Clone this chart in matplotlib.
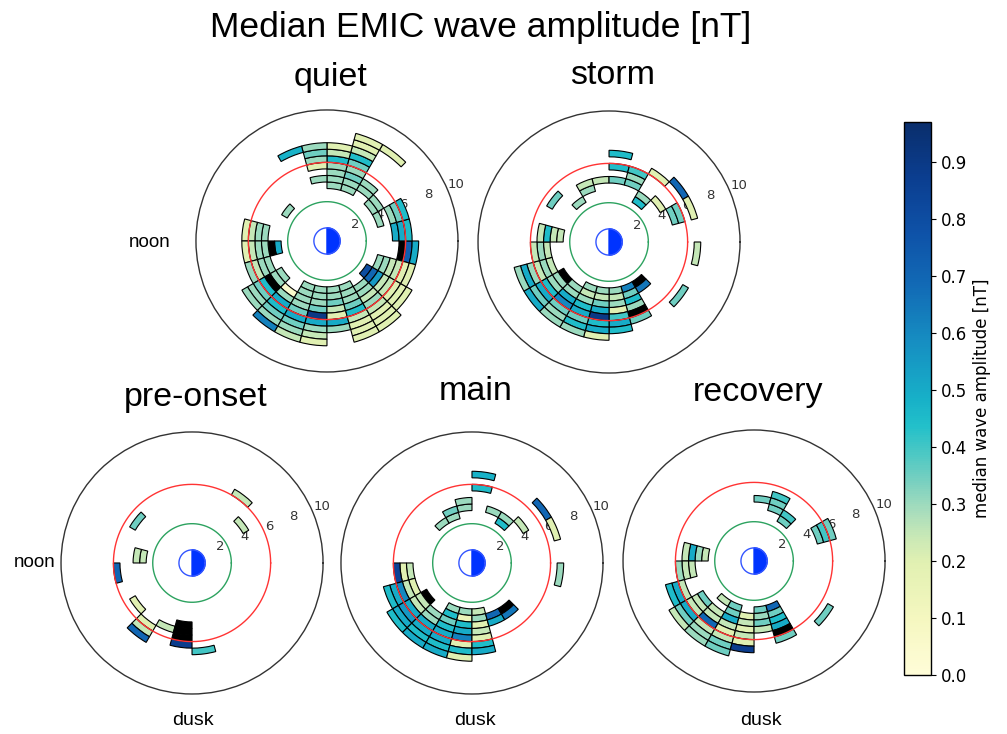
import numpy as np
import matplotlib
import matplotlib.pyplot as plt
from matplotlib import colors, cm

plt.rcParams['font.family'] = ['DejaVu Sans']
label_font = ['Liberation Sans', 'DejaVu Sans']

# each entry: (MLT hour, lowest L of the run, amplitudes of consecutive 0.5 L bins)
# values above the colour range (>0.97 nT) are drawn black
quiet = [
    (23, 5.5, [1.2, 0.72, 0.5]),
    (0, 5.0, [0.5, 0.5, 0.45]),
    (1, 4.0, [0.3]), (1, 5.0, [0.3, 0.35, 0.45]),
    (2, 4.0, [0.3, 0.3]),
    (3, 4.5, [0.3, 0.3]), (3, 8.0, [0.2]),
    (4, 4.0, [0.3, 0.3, 0.35, 0.3, 0.35, 0.45, 0.25, 0.2, 0.2]),
    (5, 4.0, [0.3, 0.3, 0.3, 0.3, 0.45, 0.25, 0.2]),
    (6, 4.5, [0.3]), (6, 5.5, [0.2, 0.3, 0.35, 0.3]),
    (7, 7.0, [0.48]),
    (9, 3.5, [0.3]),
    (11, 4.5, [0.3, 0.3, 0.25, 0.2]),
    (12, 3.5, [0.5, 1.2, 0.3, 0.3, 0.25, 0.2]),
    (13, 4.5, [0.3, 0.3, 0.25, 0.3]),
    (14, 4.0, [0.3, 0.3, 1.2, 0.45, 0.35, 0.3, 0.3]),
    (15, 4.5, [0.05, 0.3, 0.5, 0.45, 0.35, 0.3, 0.62]),
    (16, 3.5, [0.3, 0.3, 0.3, 0.3, 0.35, 0.5, 0.35, 0.3, 0.25]),
    (17, 3.5, [0.3, 0.3, 0.3, 0.35, 0.9, 0.5, 0.3, 0.25, 0.2]),
    (18, 3.5, [0.3, 0.3, 0.35, 0.25, 0.2, 0.5, 0.3]),
    (19, 3.5, [0.3, 0.3, 0.3, 0.35, 0.45, 0.25, 0.2, 0.2, 0.2]),
    (20, 4.0, [0.3, 0.3, 0.25, 0.3, 0.25, 0.2, 0.2, 0.2]),
    (21, 3.5, [0.8, 0.7, 0.55, 0.25, 0.25, 0.2, 0.2, 0.2]),
    (22, 4.0, [0.3, 0.3, 0.25, 0.25, 0.2, 0.2]),
]

storm = [
    (23, 6.5, [0.25]),
    (21, 6.5, [0.35]),
    (20, 3.5, [1.2, 0.65]),
    (19, 3.5, [0.62, 0.35, 0.45, 0.3, 1.2, 0.35]),
    (18, 3.5, [0.3, 0.25, 0.3, 0.2, 0.4, 0.5, 0.45]),
    (17, 3.5, [0.3, 0.25, 0.35, 0.5, 0.9, 0.45, 0.5, 0.2]),
    (16, 3.5, [0.3, 0.25, 0.3, 0.45, 0.5, 0.35, 0.45, 0.3]),
    (15, 4.0, [0.3, 0.3, 0.5, 0.6, 0.35, 0.3, 0.3]),
    (14, 4.0, [1.2, 0.3, 0.3, 0.45, 0.5, 0.35, 0.5]),
    (13, 4.5, [0.25, 0.3, 0.25, 0.3, 0.5, 0.3]),
    (12, 4.5, [0.25, 0.3, 0.25]),
    (11, 3.5, [0.25, 0.25, 0.45, 0.25]),
    (9, 5.0, [0.35]),
    (8, 3.5, [0.3]),
    (7, 4.0, [0.3, 0.25]),
    (6, 4.5, [0.25]),
    (5, 4.5, [0.35]), (5, 5.5, [0.45]), (5, 6.5, [0.45]),
    (4, 4.5, [0.35, 0.3, 0.4]),
    (3, 3.5, [0.45, 0.3]), (3, 6.0, [0.2]),
    (2, 4.5, [0.2]), (2, 6.5, [0.7]),
    (1, 5.0, [0.35, 0.35]), (1, 6.5, [0.2]),
]

preonset = [
    (3, 6.0, [0.25]),
    (2, 4.5, [0.25]),
    (9, 5.0, [0.35]),
    (11, 3.5, [0.25, 0.25]),
    (12, 5.5, [0.7]),
    (14, 5.0, [0.2]),
    (15, 5.5, [0.2, 0.25, 0.7]),
    (16, 5.0, [0.25]),
    (17, 4.5, [1.2, 1.2, 1.2, 0.88]),
    (18, 6.5, [0.4]),
]

main = [
    (5, 5.5, [0.45]), (5, 6.5, [0.48]),
    (6, 4.0, [0.3, 0.3]),
    (7, 3.5, [0.3, 0.35]),
    (8, 3.5, [0.3]),
    (4, 4.0, [0.3]),
    (3, 3.5, [0.45, 0.3]),
    (2, 4.5, [0.25]), (2, 6.5, [0.7]),
    (1, 6.5, [0.2]),
    (23, 6.5, [0.3]),
    (12, 4.5, [0.25, 0.2, 0.85]),
    (13, 4.5, [0.2, 0.25, 0.6, 0.5, 0.45]),
    (14, 4.0, [1.2, 0.25, 0.25, 0.5, 0.55, 0.5, 0.45]),
    (15, 4.5, [0.3, 0.3, 0.5, 0.5, 0.45, 0.5]),
    (16, 3.5, [0.3, 0.45, 0.35, 0.45, 0.5, 0.5, 0.45, 0.5]),
    (17, 3.5, [0.3, 0.15, 0.45, 0.5, 0.62, 0.2, 0.45, 0.2]),
    (18, 3.5, [0.25, 0.3, 0.2, 0.25, 0.2, 0.45, 0.5]),
    (19, 4.0, [0.7, 0.5]),
    (20, 4.0, [1.2, 0.65]),
]

recovery = [
    (5, 4.5, [0.35]),
    (4, 4.0, [0.35, 0.35, 0.4]),
    (3, 3.5, [0.35, 0.4]),
    (1, 5.0, [0.35, 0.4, 0.35]),
    (21, 6.5, [0.35]),
    (11, 3.5, [0.25, 0.3, 0.5, 0.25]),
    (12, 4.5, [0.25, 0.25, 0.3]),
    (13, 5.5, [0.25, 0.5, 0.45]),
    (14, 4.5, [0.35, 0.25, 0.25, 0.5, 0.35, 0.25]),
    (15, 3.5, [0.25]), (15, 4.5, [0.25, 0.25, 0.7, 0.25, 0.3, 0.3]),
    (16, 3.5, [0.35, 0.35, 0.5, 0.25, 0.2, 0.25, 0.35, 0.35]),
    (17, 4.0, [0.2, 0.25, 0.2, 0.25, 0.2, 0.88]),
    (18, 3.5, [0.35, 0.3, 0.35, 0.25]),
    (19, 3.5, [0.7, 0.35, 0.45, 0.5, 1.2, 0.35]),
]

rticks = [2, 4, 6, 8, 10]
cb_ticks = [0.0, 0.1, 0.2, 0.3, 0.4, 0.5, 0.6, 0.7, 0.8, 0.9]

# colour ramp picked off the reference colour bar
ramp_pos = [0.0, 0.1, 0.2, 0.25, 0.3, 0.35, 0.4, 0.45, 0.5, 0.6, 0.7, 0.8, 0.9, 1.0]
ramp_col = ['#fffdd8', '#f5f7c0', '#e2f1b2', '#c8e8b6', '#a4dcbd', '#78d0c0', '#4cc8c4',
            '#22c0ca', '#17b0c8', '#168fc2', '#126cb6', '#0e52a8', '#0b3e90', '#0a2e6c']
cmap = colors.LinearSegmentedColormap.from_list('emic', list(zip(ramp_pos, ramp_col)))
cmap.set_over('black')
norm = colors.Normalize(vmin=0.0, vmax=0.97)

fig = plt.figure(figsize=(10.07, 7.34), dpi=100)

def panel(rect, cells, title, title_y):
    ax = fig.add_axes(rect, projection='polar')
    for mlt, L0, vals in cells:
        for i, v in enumerate(vals):
            ax.bar(np.deg2rad(mlt * 15), 0.5, width=np.deg2rad(15), bottom=L0 + 0.5 * i,
                   align='edge', color=cmap(norm(v)), edgecolor='black', linewidth=0.8, zorder=2)
    t = np.linspace(0, 2 * np.pi, 361)
    ax.plot(t, np.full_like(t, 3.0), color='#2ca25f', lw=1.0, zorder=3)
    ax.plot(t, np.full_like(t, 6.0), color='#ff3333', lw=1.0, zorder=3)
    # earth: night side filled
    th = np.linspace(-np.pi / 2, np.pi / 2, 60)
    ax.fill(np.r_[th, 0], np.r_[np.ones_like(th), 0], color='#0033ff', zorder=4)
    ax.plot(t, np.ones_like(t), color='#3355ff', lw=1.0, zorder=4)
    ax.set_rlim(0, 10)
    ax.set_rticks(rticks)
    ax.set_rlabel_position(22.5)
    ax.set_xticks([])
    ax.grid(False)
    ax.tick_params(labelsize=9.5, colors='#333333')
    ax.spines['polar'].set_color('#333333')
    ax.spines['polar'].set_linewidth(1.0)
    cx = rect[0] + rect[2] / 2 + 0.004
    fig.text(cx, title_y, title, ha='center', va='center', fontsize=24.5, family=label_font)
    return ax

panel([0.1946, 0.4932, 0.2602, 0.357], quiet, 'quiet', 0.895)
panel([0.4747, 0.4918, 0.2602, 0.357], storm, 'storm', 0.897)
panel([0.0606, 0.0545, 0.2602, 0.357], preonset, 'pre-onset', 0.459)
panel([0.3386, 0.0545, 0.2602, 0.357], main, 'main', 0.466)
panel([0.6187, 0.0572, 0.2602, 0.357], recovery, 'recovery', 0.465)

fig.text(0.477, 0.963, 'Median EMIC wave amplitude [nT]', ha='center', va='center',
         fontsize=25.5, family=label_font)
fig.text(0.169, 0.669, 'noon', ha='right', va='center', fontsize=13.5, family=label_font)
fig.text(0.055, 0.233, 'noon', ha='right', va='center', fontsize=13.5, family=label_font)
for x in [0.1917, 0.4717, 0.7558]:
    fig.text(x, 0.019, 'dusk', ha='center', va='center', fontsize=14, family=label_font)

cax = fig.add_axes([0.8977, 0.0804, 0.0268, 0.7534])
sm = cm.ScalarMappable(norm=norm, cmap=cmap)
cb = fig.colorbar(sm, cax=cax, ticks=cb_ticks, format='%.1f')
cb.set_label('median wave amplitude [nT]', fontsize=12)
cb.ax.tick_params(labelsize=12)
cb.outline.set_linewidth(1.0)

fig.savefig('out.png', dpi=100)
